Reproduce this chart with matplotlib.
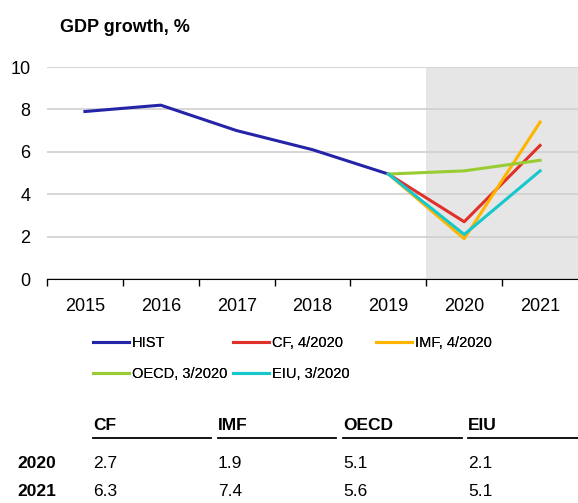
import matplotlib.pyplot as plt
from matplotlib.lines import Line2D

plt.rcParams['font.family'] = ['Liberation Sans', 'DejaVu Sans']

years = [2015, 2016, 2017, 2018, 2019, 2020, 2021]
hist_years = [2015, 2016, 2017, 2018, 2019]
hist = [7.9, 8.2, 7.0, 6.1, 4.95]
fc_years = [2019, 2020, 2021]
forecasts = {
    'CF, 4/2020': [4.95, 2.7, 6.3],
    'IMF, 4/2020': [4.95, 1.9, 7.4],
    'OECD, 3/2020': [4.95, 5.1, 5.6],
    'EIU, 3/2020': [4.95, 2.1, 5.1],
}
colors = {
    'HIST': '#2424a8',
    'CF, 4/2020': '#e0302a',
    'IMF, 4/2020': '#ffb400',
    'OECD, 3/2020': '#99cc33',
    'EIU, 3/2020': '#14c8cc',
}
table_cols = ['CF', 'IMF', 'OECD', 'EIU']
table_rows = ['2020', '2021']
table_vals = [['2.7', '1.9', '5.1', '2.1'],
              ['6.3', '7.4', '5.6', '5.1']]

W, H = 578, 503
fig = plt.figure(figsize=(W / 100, H / 100), dpi=100)
ax = fig.add_axes([47 / W, 1 - 279 / H, 531 / W, 212 / H])

ax.axvspan(2019.5, 2021.5, color='#e6e6e6', zorder=0, lw=0)
ax.plot(hist_years, hist, color=colors['HIST'], lw=2.2, label='HIST', zorder=3)
for name, vals in forecasts.items():
    ax.plot(fc_years, vals, color=colors[name], lw=2.2, label=name, zorder=3)

ax.set_xlim(2014.5, 2021.5)
ax.set_ylim(0, 10)
ax.set_yticks([0, 2, 4, 6, 8, 10])
ax.set_xticks(years)
ax.set_xticks([y + 0.5 for y in range(2014, 2021)], minor=True)
ax.tick_params(axis='x', which='major', length=0, labelsize=13, pad=14)
ax.tick_params(axis='x', which='minor', length=5, width=1, direction='out')
ax.tick_params(axis='y', length=0, labelsize=13, pad=12)
ax.grid(axis='y', color='#d0d0d0', lw=1.2, zorder=1)
ax.set_axisbelow(True)
for s in ['top', 'right', 'left']:
    ax.spines[s].set_visible(False)
ax.spines['bottom'].set_color('black')

fig.text(60 / W, 1 - 27 / H, 'GDP growth, %', fontsize=13, fontweight='bold',
         va='center', ha='left')

# legend in three fixed columns, row-wise
handles, labels = ax.get_legend_handles_labels()
legend_cols = [[0, 3], [1, 4], [2]]
legend_x = [93, 233, 376]
for idx, x in zip(legend_cols, legend_x):
    leg = fig.legend([handles[i] for i in idx], [labels[i] for i in idx],
                     loc='upper left', bbox_to_anchor=(x / W, 1 - 336 / H),
                     frameon=False, fontsize=10.5, handlelength=2.45,
                     handletextpad=0.2, labelspacing=1.15,
                     borderpad=0, borderaxespad=0)
    fig.add_artist(leg)

# table below the chart
col_x = [93, 218, 343, 468]
line_spans = [(93, 211), (218, 336), (343, 462), (468, 578)]
for c, x, (x0, x1) in zip(table_cols, col_x, line_spans):
    fig.text(x / W, 1 - 426 / H, c, fontsize=12.5, fontweight='bold', va='center')
    fig.add_artist(Line2D([x0 / W, x1 / W], [1 - 438 / H, 1 - 438 / H],
                          color='black', lw=1.3, transform=fig.transFigure))
row_y = [464, 492]
for r, y, vals in zip(table_rows, row_y, table_vals):
    fig.text(17 / W, 1 - y / H, r, fontsize=12.5, fontweight='bold', va='center')
    for v, x in zip(vals, col_x):
        fig.text(x / W, 1 - y / H, v, fontsize=12.5, va='center')

fig.savefig('out.png', dpi=100)
